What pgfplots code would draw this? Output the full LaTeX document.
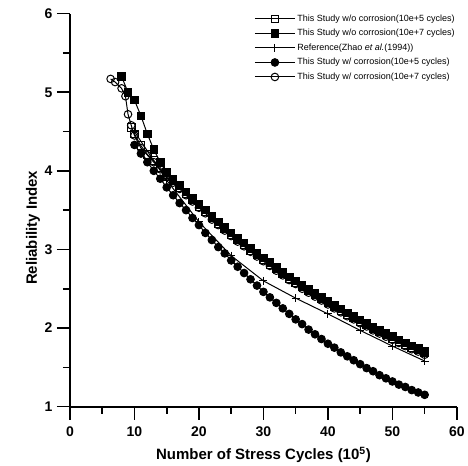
\documentclass[border=0pt]{standalone}
\usepackage{pgfplots}
\pgfplotsset{compat=1.18}
\usepackage{fontspec}
\setmainfont{Liberation Sans}

\begin{document}
\begin{tikzpicture}
\begin{axis}[
    width=387pt, height=393pt, scale only axis,
    xmin=0, xmax=60, ymin=1, ymax=6,
    axis lines*=left,
    axis line style={line width=1.8pt},
    xtick={0,10,...,60}, ytick={1,2,...,6},
    minor x tick num=1, minor y tick num=1,
    tick align=outside,
    major tick length=13pt, minor tick length=7pt,
    every tick/.style={black, line width=1.6pt},
    /pgf/number format/assume math mode=true,
    tick label style={font=\fontsize{14}{16}\selectfont\bfseries},
    xticklabel style={yshift=-4pt},
    yticklabel style={xshift=-1pt},
    xlabel={Number of Stress Cycles (10\textsuperscript{5})},
    ylabel={Reliability Index},
    label style={font=\fontsize{15}{17}\selectfont\bfseries},
    xlabel style={at={(axis description cs:0.5,0)}, anchor=center, yshift=-48pt},
    ylabel style={at={(axis description cs:0,0.455)}, anchor=center, yshift=37pt},
    legend style={draw=none, fill=none, inner sep=0pt, at={(1.0,1.0)}, yshift=1pt, anchor=north east,
        font=\fontsize{9}{10}\selectfont, row sep=2.5pt},
    legend cell align=left,
    legend image code/.code={\draw[mark repeat=2,mark phase=2] plot coordinates {(0pt,0pt)(20pt,0pt)(40pt,0pt)};},
    clip=false,
]

% without corrosion, 10e+5 cycles
\addplot[black, line width=1pt, mark=square, mark size=3.8pt, mark options={fill=white, solid}]
    coordinates {
    (9.5,4.55)(10,4.47)(11,4.32)(12,4.21)(13,4.13)(14,4.04)(15,3.95)(16,3.87)(17,3.79)(18,3.71)
    (19,3.63)(20,3.55)(21,3.48)(22,3.40)(23,3.33)(24,3.26)(25,3.19)(26,3.12)(27,3.06)(28,2.99)
    (29,2.93)(30,2.87)(31,2.81)(32,2.75)(33,2.69)(34,2.63)(35,2.58)(36,2.52)(37,2.47)(38,2.42)
    (39,2.37)(40,2.32)(41,2.27)(42,2.22)(43,2.17)(44,2.13)(45,2.08)(46,2.04)(47,1.99)(48,1.95)
    (49,1.91)(50,1.87)(51,1.83)(52,1.79)(53,1.75)(54,1.72)(55,1.68)
    };
\addlegendentry{This Study w/o corrosion(10e+5 cycles)}

% without corrosion, 10e+7 cycles
\addplot[black, line width=1pt, mark=square*, mark size=3.8pt]
    coordinates {
    (8,5.20)(9,5.00)(10,4.90)(11,4.70)(12,4.47)(13,4.27)(14,4.11)(15,3.98)(16,3.89)(17,3.81)
    (18,3.73)(19,3.65)(20,3.57)(21,3.50)(22,3.42)(23,3.35)(24,3.28)(25,3.21)(26,3.14)(27,3.08)
    (28,3.01)(29,2.95)(30,2.89)(31,2.83)(32,2.77)(33,2.71)(34,2.65)(35,2.60)(36,2.54)(37,2.49)
    (38,2.44)(39,2.39)(40,2.34)(41,2.29)(42,2.24)(43,2.19)(44,2.15)(45,2.10)(46,2.06)(47,2.01)
    (48,1.97)(49,1.93)(50,1.89)(51,1.85)(52,1.81)(53,1.77)(54,1.74)(55,1.70)
    };
\addlegendentry{This Study w/o corrosion(10e+7 cycles)}

% Zhao et al. (1994)
\addplot[black, line width=1pt, mark=+, mark size=4pt]
    coordinates {
    (10,4.50)(15,3.88)(20,3.35)(25,2.92)(30,2.60)(35,2.38)(40,2.18)(45,1.97)(50,1.77)(55,1.58)
    };
\addlegendentry{Reference(Zhao \textit{et al.}(1994))}

% with corrosion, 10e+5 cycles
\addplot[black, line width=1pt, mark=*, mark size=3.8pt]
    coordinates {
    (10,4.33)(11,4.22)(12,4.11)(13,4.00)(14,3.90)(15,3.79)(16,3.69)(17,3.59)(18,3.50)(19,3.40)
    (20,3.31)(21,3.21)(22,3.12)(23,3.03)(24,2.95)(25,2.86)(26,2.78)(27,2.70)(28,2.62)(29,2.54)
    (30,2.46)(31,2.39)(32,2.32)(33,2.25)(34,2.18)(35,2.11)(36,2.05)(37,1.98)(38,1.92)(39,1.86)
    (40,1.80)(41,1.75)(42,1.69)(43,1.64)(44,1.59)(45,1.54)(46,1.49)(47,1.45)(48,1.40)(49,1.36)
    (50,1.32)(51,1.28)(52,1.25)(53,1.21)(54,1.18)(55,1.15)
    };
\addlegendentry{This Study w/ corrosion(10e+5 cycles)}

% with corrosion, 10e+7 cycles
\addplot[black, line width=1pt, mark=o, mark size=3.8pt, mark options={fill=white, solid}]
    coordinates {
    (6.3,5.17)(7,5.13)(8,5.05)(8.6,4.95)(9,4.72)(9.5,4.58)(10,4.45)(11,4.29)(12,4.20)(13,4.11)
    (14,4.02)(15,3.93)(16,3.85)(17,3.77)(18,3.69)(19,3.61)(20,3.53)(21,3.46)(22,3.38)(23,3.31)
    (24,3.24)(25,3.17)(26,3.10)(27,3.04)(28,2.97)(29,2.91)(30,2.85)(31,2.79)(32,2.73)(33,2.67)
    (34,2.61)(35,2.56)(36,2.50)(37,2.45)(38,2.40)(39,2.35)(40,2.30)(41,2.25)(42,2.20)(43,2.15)
    (44,2.11)(45,2.06)(46,2.02)(47,1.97)(48,1.93)(49,1.89)(50,1.85)(51,1.81)(52,1.77)(53,1.73)
    (54,1.70)(55,1.66)
    };
\addlegendentry{This Study w/ corrosion(10e+7 cycles)}

% page margins as in the reference
\path (rel axis cs:0,0) ++(-70pt,-59pt);
\path (rel axis cs:1,1) ++(11pt,13.7pt);
\end{axis}
\end{tikzpicture}
\end{document}
